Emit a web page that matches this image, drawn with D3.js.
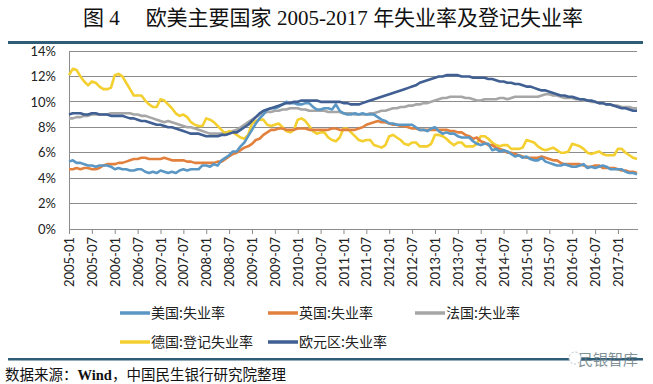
<!DOCTYPE html>
<html>
<head>
<meta charset="utf-8">
<script src="https://cdn.jsdelivr.net/npm/d3@7"></script>
<style>
  body { margin: 0; background: #fff; }
  svg { display: block; }
</style>
</head>
<body>
<div id="chart"></div>
<script>
//Datos mensuales 2005-01 a 2017-06 (lectura aproximada del gráfico)
const startMonth = new Date(2005, 0, 1), endMonth = new Date(2017, 5, 1);

const tickLabels = ['2005-01','2005-07','2006-01','2006-07','2007-01','2007-07','2008-01','2008-07',
  '2009-01','2009-07','2010-01','2010-07','2011-01','2011-07','2012-01','2012-07','2013-01','2013-07',
  '2014-01','2014-07','2015-01','2015-07','2016-01','2016-07','2017-01'];

const yTicks = [0, 2, 4, 6, 8, 10, 12, 14];

const usRate = [
  5.3,5.4,5.2,5.2,5.1,5.0,5.0,4.9,5.0,5.0,5.0,4.9,
  4.7,4.8,4.7,4.7,4.6,4.6,4.7,4.7,4.5,4.4,4.5,4.4,
  4.6,4.5,4.4,4.5,4.4,4.6,4.7,4.6,4.7,4.7,4.7,5.0,
  5.0,4.9,5.1,5.0,5.4,5.6,5.8,6.1,6.1,6.5,6.8,7.3,
  7.8,8.3,8.7,9.0,9.4,9.5,9.5,9.6,9.8,10.0,9.9,9.9,
  9.8,9.8,9.9,9.9,9.6,9.4,9.4,9.5,9.5,9.4,9.8,9.3,
  9.1,9.0,9.0,9.1,9.0,9.1,9.0,9.0,9.0,8.8,8.6,8.5,
  8.3,8.3,8.2,8.2,8.2,8.2,8.2,8.0,7.8,7.8,7.7,7.9,
  8.0,7.7,7.5,7.6,7.5,7.5,7.3,7.2,7.2,7.2,6.9,6.7,
  6.6,6.7,6.7,6.2,6.3,6.1,6.2,6.1,5.9,5.7,5.8,5.6,
  5.7,5.5,5.4,5.4,5.6,5.3,5.2,5.1,5.0,5.0,5.1,5.0,
  4.9,4.9,5.0,5.1,4.8,4.9,4.8,4.9,5.0,4.9,4.7,4.7,
  4.7,4.7,4.5,4.4,4.4,4.3];

const ukRate = [
  4.7,4.7,4.8,4.7,4.8,4.8,4.7,4.7,4.8,5.0,5.1,5.1,
  5.1,5.2,5.2,5.3,5.4,5.5,5.5,5.6,5.6,5.5,5.5,5.5,
  5.5,5.6,5.5,5.4,5.4,5.4,5.4,5.3,5.3,5.2,5.2,5.2,
  5.2,5.2,5.2,5.3,5.3,5.5,5.7,5.9,6.0,6.2,6.4,6.5,
  6.7,7.0,7.1,7.4,7.6,7.8,7.8,7.9,7.9,7.8,7.8,7.8,
  7.9,7.9,7.9,7.8,7.8,7.8,7.8,7.8,7.8,7.9,7.9,7.8,
  7.8,7.8,7.8,7.8,7.9,8.0,8.2,8.3,8.4,8.5,8.4,8.4,
  8.3,8.2,8.2,8.1,8.1,8.0,7.9,7.9,7.8,7.8,7.8,7.8,
  7.8,7.8,7.8,7.8,7.7,7.7,7.6,7.6,7.4,7.3,7.1,7.2,
  6.9,6.8,6.6,6.6,6.4,6.3,6.2,6.0,6.0,5.9,5.8,5.7,
  5.6,5.6,5.6,5.6,5.7,5.6,5.5,5.4,5.4,5.2,5.1,5.1,
  5.1,5.1,5.1,5.0,4.9,4.9,5.0,5.0,4.8,4.8,4.8,4.8,
  4.7,4.6,4.6,4.5,4.5,4.4];

const frRate = [
  8.7,8.7,8.8,8.8,8.9,8.9,9.0,9.0,9.0,9.0,9.0,9.1,
  9.1,9.1,9.1,9.1,9.1,9.0,9.0,8.9,8.9,8.8,8.7,8.6,
  8.5,8.4,8.5,8.4,8.3,8.2,8.1,8.0,8.0,7.9,7.8,7.7,
  7.6,7.5,7.5,7.5,7.5,7.6,7.6,7.7,7.8,8.0,8.2,8.4,
  8.6,8.8,9.0,9.1,9.2,9.2,9.3,9.3,9.4,9.4,9.5,9.5,
  9.5,9.4,9.4,9.3,9.3,9.3,9.3,9.3,9.2,9.2,9.2,9.2,
  9.1,9.1,9.1,9.0,9.0,9.0,9.0,9.1,9.1,9.2,9.3,9.3,
  9.4,9.5,9.5,9.6,9.6,9.7,9.7,9.8,9.8,9.9,9.9,10.0,
  10.1,10.2,10.3,10.3,10.4,10.4,10.4,10.4,10.3,10.3,10.2,10.1,
  10.1,10.2,10.2,10.2,10.2,10.3,10.3,10.2,10.3,10.4,10.4,10.4,
  10.4,10.4,10.4,10.4,10.5,10.6,10.6,10.5,10.5,10.4,10.3,10.3,
  10.3,10.2,10.2,10.1,10.1,10.0,10.0,9.9,9.9,9.8,9.8,9.7,
  9.7,9.6,9.6,9.6,9.5,9.5];

const deRate = [
  12.1,12.6,12.5,12.0,11.6,11.3,11.6,11.5,11.2,11.0,11.0,11.1,
  12.1,12.2,12.0,11.5,11.0,10.5,10.5,10.5,10.1,9.8,9.6,9.6,
  10.2,10.1,9.8,9.5,9.1,8.9,9.0,8.8,8.4,8.2,8.1,8.1,
  8.7,8.6,8.4,8.1,7.8,7.5,7.7,7.6,7.4,7.2,7.1,7.4,
  8.3,8.5,8.6,8.6,8.2,8.1,8.2,8.3,8.0,7.7,7.6,7.8,
  8.6,8.7,8.5,8.1,7.7,7.5,7.6,7.6,7.2,7.0,6.9,7.2,
  7.9,7.9,7.6,7.3,7.0,6.9,7.0,7.0,6.6,6.5,6.4,6.6,
  7.3,7.4,7.2,7.0,6.7,6.6,6.8,6.8,6.5,6.5,6.5,6.7,
  7.4,7.4,7.3,7.1,6.8,6.6,6.8,6.8,6.5,6.5,6.5,6.7,
  7.3,7.3,7.1,6.8,6.6,6.5,6.6,6.6,6.3,6.3,6.3,6.4,
  7.0,6.9,6.8,6.5,6.3,6.2,6.3,6.4,6.2,6.0,6.0,6.1,
  6.7,6.6,6.5,6.3,6.0,5.9,6.0,6.1,5.9,5.8,5.8,5.8,
  6.3,6.3,6.0,5.8,5.6,5.5];

const euRate = [
  9.0,9.1,9.1,9.1,9.0,9.0,9.1,9.1,9.0,9.0,9.0,8.9,
  8.9,8.9,8.9,8.8,8.7,8.7,8.6,8.5,8.5,8.4,8.3,8.2,
  8.2,8.1,8.0,8.0,7.9,7.8,7.7,7.6,7.5,7.5,7.5,7.4,
  7.3,7.3,7.3,7.3,7.4,7.4,7.5,7.6,7.6,7.8,8.0,8.2,
  8.5,8.8,9.1,9.3,9.4,9.5,9.6,9.7,9.8,9.9,9.9,10.0,
  10.0,10.1,10.1,10.1,10.1,10.1,10.0,10.0,10.0,10.0,10.0,10.0,
  9.9,9.9,9.8,9.8,9.8,9.9,10.0,10.1,10.2,10.3,10.4,10.5,
  10.6,10.7,10.8,10.9,11.0,11.1,11.2,11.3,11.5,11.6,11.7,11.8,
  11.9,12.0,12.0,12.1,12.1,12.1,12.1,12.0,12.0,12.0,11.9,11.9,
  11.9,11.9,11.8,11.8,11.7,11.6,11.6,11.5,11.5,11.4,11.4,11.3,
  11.2,11.2,11.1,11.0,10.9,10.9,10.8,10.7,10.6,10.5,10.5,10.4,
  10.4,10.3,10.2,10.2,10.1,10.1,10.0,9.9,9.9,9.8,9.8,9.7,
  9.6,9.5,9.5,9.4,9.3,9.3];

const seriesNames = ['美国:失业率','英国:失业率','法国:失业率','德国:登记失业率','欧元区:失业率'];
const seriesValues = [usRate, ukRate, frRate, deRate, euRate];
const seriesColors = ['#5b97c4','#e2813e','#a6a6a6','#f4cf30','#405f92'];
//orden de dibujo (gris y amarillo debajo)
const drawOrder = [2, 3, 1, 0, 4];

const width = 653, height = 384;
const margin = {top: 51, right: 16, bottom: 155, left: 69};

const months = d3.timeMonth.range(startMonth, d3.timeMonth.offset(endMonth, 1));
const fmt = d3.timeFormat('%Y-%m');
const monthKeys = months.map(fmt);

const svg = d3.select('#chart').append('svg')
  .attr('width', width).attr('height', height);

const x = d3.scalePoint().domain(monthKeys).range([margin.left, width - margin.right]);
const y = d3.scaleLinear().domain([0, 14]).range([height - margin.bottom, margin.top]);

//Título
const title = svg.append('text')
  .attr('x', 333).attr('y', 25)
  .attr('text-anchor', 'middle')
  .style('font-size', '21px').style('fill', '#111');
title.append('tspan').style('font-family', '"Noto Sans CJK SC"').text('图');
title.append('tspan').style('font-family', '"Liberation Serif"').text(' 4');
title.append('tspan').attr('dx', 26).style('font-family', '"Noto Sans CJK SC"').text('欧美主要国家');
title.append('tspan').style('font-family', '"Liberation Serif"').text(' 2005-2017 ');
title.append('tspan').style('font-family', '"Noto Sans CJK SC"').text('年失业率及登记失业率');

svg.append('rect').attr('x', 8).attr('y', 41).attr('width', 635).attr('height', 3).attr('fill', '#2f5d78');

//Rejilla
svg.append('g').selectAll('line').data(yTicks.filter(d => d > 0)).enter().append('line')
  .attr('x1', margin.left).attr('x2', width - margin.right)
  .attr('y1', d => y(d)).attr('y2', d => y(d))
  .attr('stroke', '#8c8c8c').attr('stroke-width', 1).attr('shape-rendering', 'crispEdges');

//Eje Y
const yAxis = svg.append('g').attr('transform', 'translate(' + margin.left + ',0)')
  .call(d3.axisLeft(y).tickValues(yTicks).tickFormat(d => d + '%').tickSize(0).tickPadding(13));
yAxis.select('.domain').attr('stroke', '#8c8c8c').attr('shape-rendering', 'crispEdges');
yAxis.selectAll('text').style('font-family', 'Lato, "Open Sans", sans-serif').style('font-size', '13px').style('fill', '#222');

//Eje X
const xAxis = svg.append('g').attr('transform', 'translate(0,' + y(0) + ')')
  .call(d3.axisBottom(x).tickValues(tickLabels).tickSizeOuter(0).tickSizeInner(5));
xAxis.select('.domain').attr('stroke', '#8c8c8c').attr('shape-rendering', 'crispEdges');
xAxis.selectAll('.tick line').attr('stroke', '#8c8c8c');
xAxis.selectAll('text')
  .attr('transform', 'rotate(-90)')
  .attr('text-anchor', 'end')
  .attr('x', -8).attr('y', 0).attr('dy', '0.35em')
  .style('font-family', 'Lato, "Open Sans", sans-serif').style('font-size', '13px').style('fill', '#222');

//Líneas
const line = d3.line()
  .x((d, i) => x(monthKeys[i]))
  .y(d => y(d));

svg.append('g').selectAll('path').data(drawOrder).enter().append('path')
  .attr('d', i => line(seriesValues[i]))
  .attr('fill', 'none')
  .attr('stroke', i => seriesColors[i])
  .attr('stroke-width', 2.6)
  .attr('stroke-linejoin', 'round');

//Leyenda
const legendPos = [[120, 313], [268, 313], [415, 313], [120, 342], [268, 342]];
const legend = svg.append('g').selectAll('g').data(seriesNames).enter().append('g')
  .attr('transform', (d, i) => 'translate(' + legendPos[i][0] + ',' + legendPos[i][1] + ')');
legend.append('line').attr('x1', 0).attr('x2', 30).attr('y1', 0).attr('y2', 0)
  .attr('stroke', (d, i) => seriesColors[i]).attr('stroke-width', 3.5);
legend.append('text').attr('x', 31).attr('y', 0).attr('dy', '0.36em')
  .style('font-family', '"Noto Sans CJK SC"').style('font-size', '14px').style('fill', '#222')
  .text(d => d);

//Línea inferior y fuente
svg.append('rect').attr('x', 8).attr('y', 358).attr('width', 635).attr('height', 2.5).attr('fill', '#2f5d78');
svg.append('text').attr('x', 608).attr('y', 360).attr('dy', '0.36em').attr('text-anchor', 'middle')
  .style('font-family', '"Noto Sans CJK SC"').style('font-size', '15px').style('fill', '#6d7f86')
  .style('opacity', 0.85).text('民银智库');
svg.append('circle').attr('cx', 575).attr('cy', 358).attr('r', 6).attr('fill', '#fff')
  .attr('stroke', '#b8c0c4').attr('stroke-width', 1).attr('stroke-dasharray', '2,2');

const src = svg.append('text').attr('x', 5).attr('y', 380)
  .style('font-size', '14.5px').style('fill', '#111');
src.append('tspan').style('font-family', '"Noto Sans CJK SC"').text('数据来源：');
src.append('tspan').style('font-family', '"Liberation Serif"').style('font-weight', 'bold').text('Wind');
src.append('tspan').style('font-family', '"Noto Sans CJK SC"').text('，中国民生银行研究院整理');
</script>
</body>
</html>
